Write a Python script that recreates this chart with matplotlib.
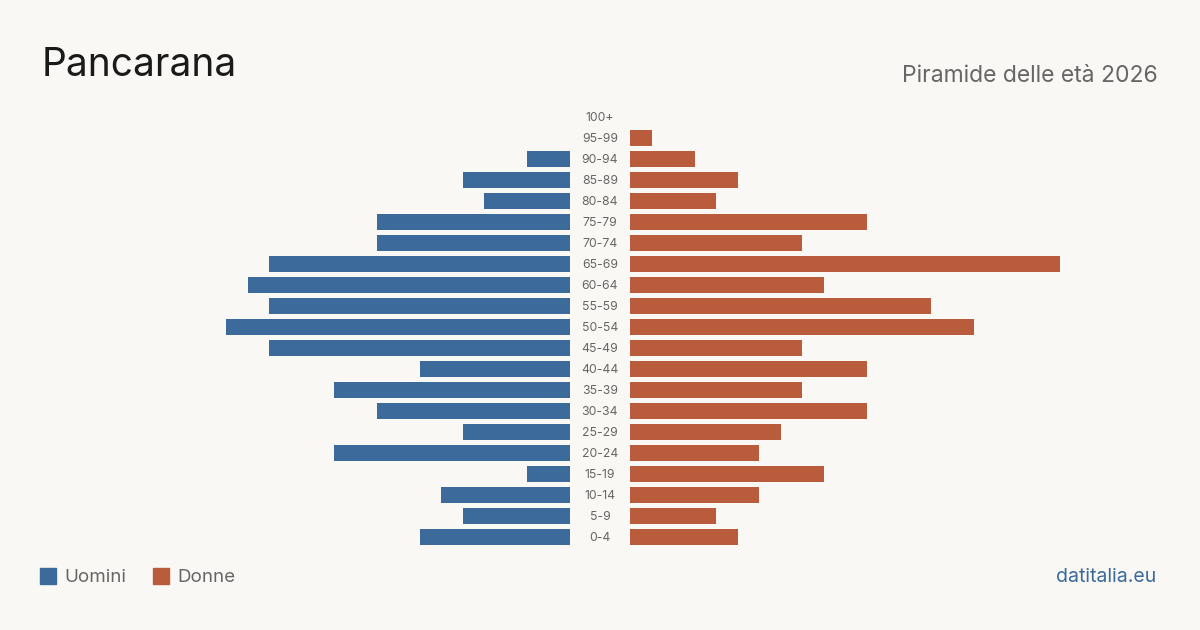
import matplotlib.pyplot as plt
from matplotlib.patches import Rectangle

plt.rcParams['font.family'] = ['Inter', 'DejaVu Sans']

# data
eta = ['0-4', '5-9', '10-14', '15-19', '20-24', '25-29', '30-34', '35-39', '40-44', '45-49',
       '50-54', '55-59', '60-64', '65-69', '70-74', '75-79', '80-84', '85-89', '90-94', '95-99', '100+']
uomini = [7, 5, 6, 2, 11, 5, 9, 11, 7, 14, 16, 14, 15, 14, 9, 9, 4, 5, 2, 0, 0]
donne = [5, 4, 6, 9, 6, 7, 11, 8, 11, 8, 16, 14, 9, 20, 8, 11, 4, 5, 3, 1, 0]

bg = '#f9f8f4'
blu = '#3b6a9b'
arancio = '#b95c3c'
grigio = '#666666'

fig = plt.figure(figsize=(12, 6.3), dpi=100, facecolor=bg)

W, H = 1200, 630
bottom = (H - 547.5) / H
height = 441 / H
ax_m = fig.add_axes([140 / W, bottom, 430 / W, height])
ax_f = fig.add_axes([630 / W, bottom, 430 / W, height])

y = list(range(len(eta)))
ax_m.barh(y, uomini, height=0.8, color=blu)
ax_f.barh(y, donne, height=0.8, color=arancio)

for ax in (ax_m, ax_f):
    ax.set_xlim(0, 20)
    ax.set_ylim(-0.5, len(eta) - 0.5)
    ax.axis('off')
ax_m.invert_xaxis()

# age labels in the middle
for i, lab in enumerate(eta):
    ax_f.text(-30 / 21.5, i - 0.04, lab, ha='center', va='center', fontsize=8.8, color=grigio)

fig.text(42 / W, 1 - 66 / H, 'Pancarana', fontsize=28, color='#1a1a1a', va='center', ha='left')
fig.text(1158 / W, 1 - 76 / H, 'Piramide delle età 2026', fontsize=16.5, color=grigio, va='center', ha='right')

# legend
fig.patches.append(Rectangle((40 / W, 1 - 584 / H), 16 / W, 16 / H, transform=fig.transFigure, color=blu))
fig.text(64 / W, 1 - 577 / H, 'Uomini', fontsize=13.5, color=grigio, va='center', ha='left')
fig.patches.append(Rectangle((153 / W, 1 - 584 / H), 16 / W, 16 / H, transform=fig.transFigure, color=arancio))
fig.text(177 / W, 1 - 577 / H, 'Donne', fontsize=13.5, color=grigio, va='center', ha='left')

fig.text(1156 / W, 1 - 577 / H, 'datitalia.eu', fontsize=14, color=blu, va='center', ha='right')

fig.savefig('out.png', dpi=100, facecolor=bg)
